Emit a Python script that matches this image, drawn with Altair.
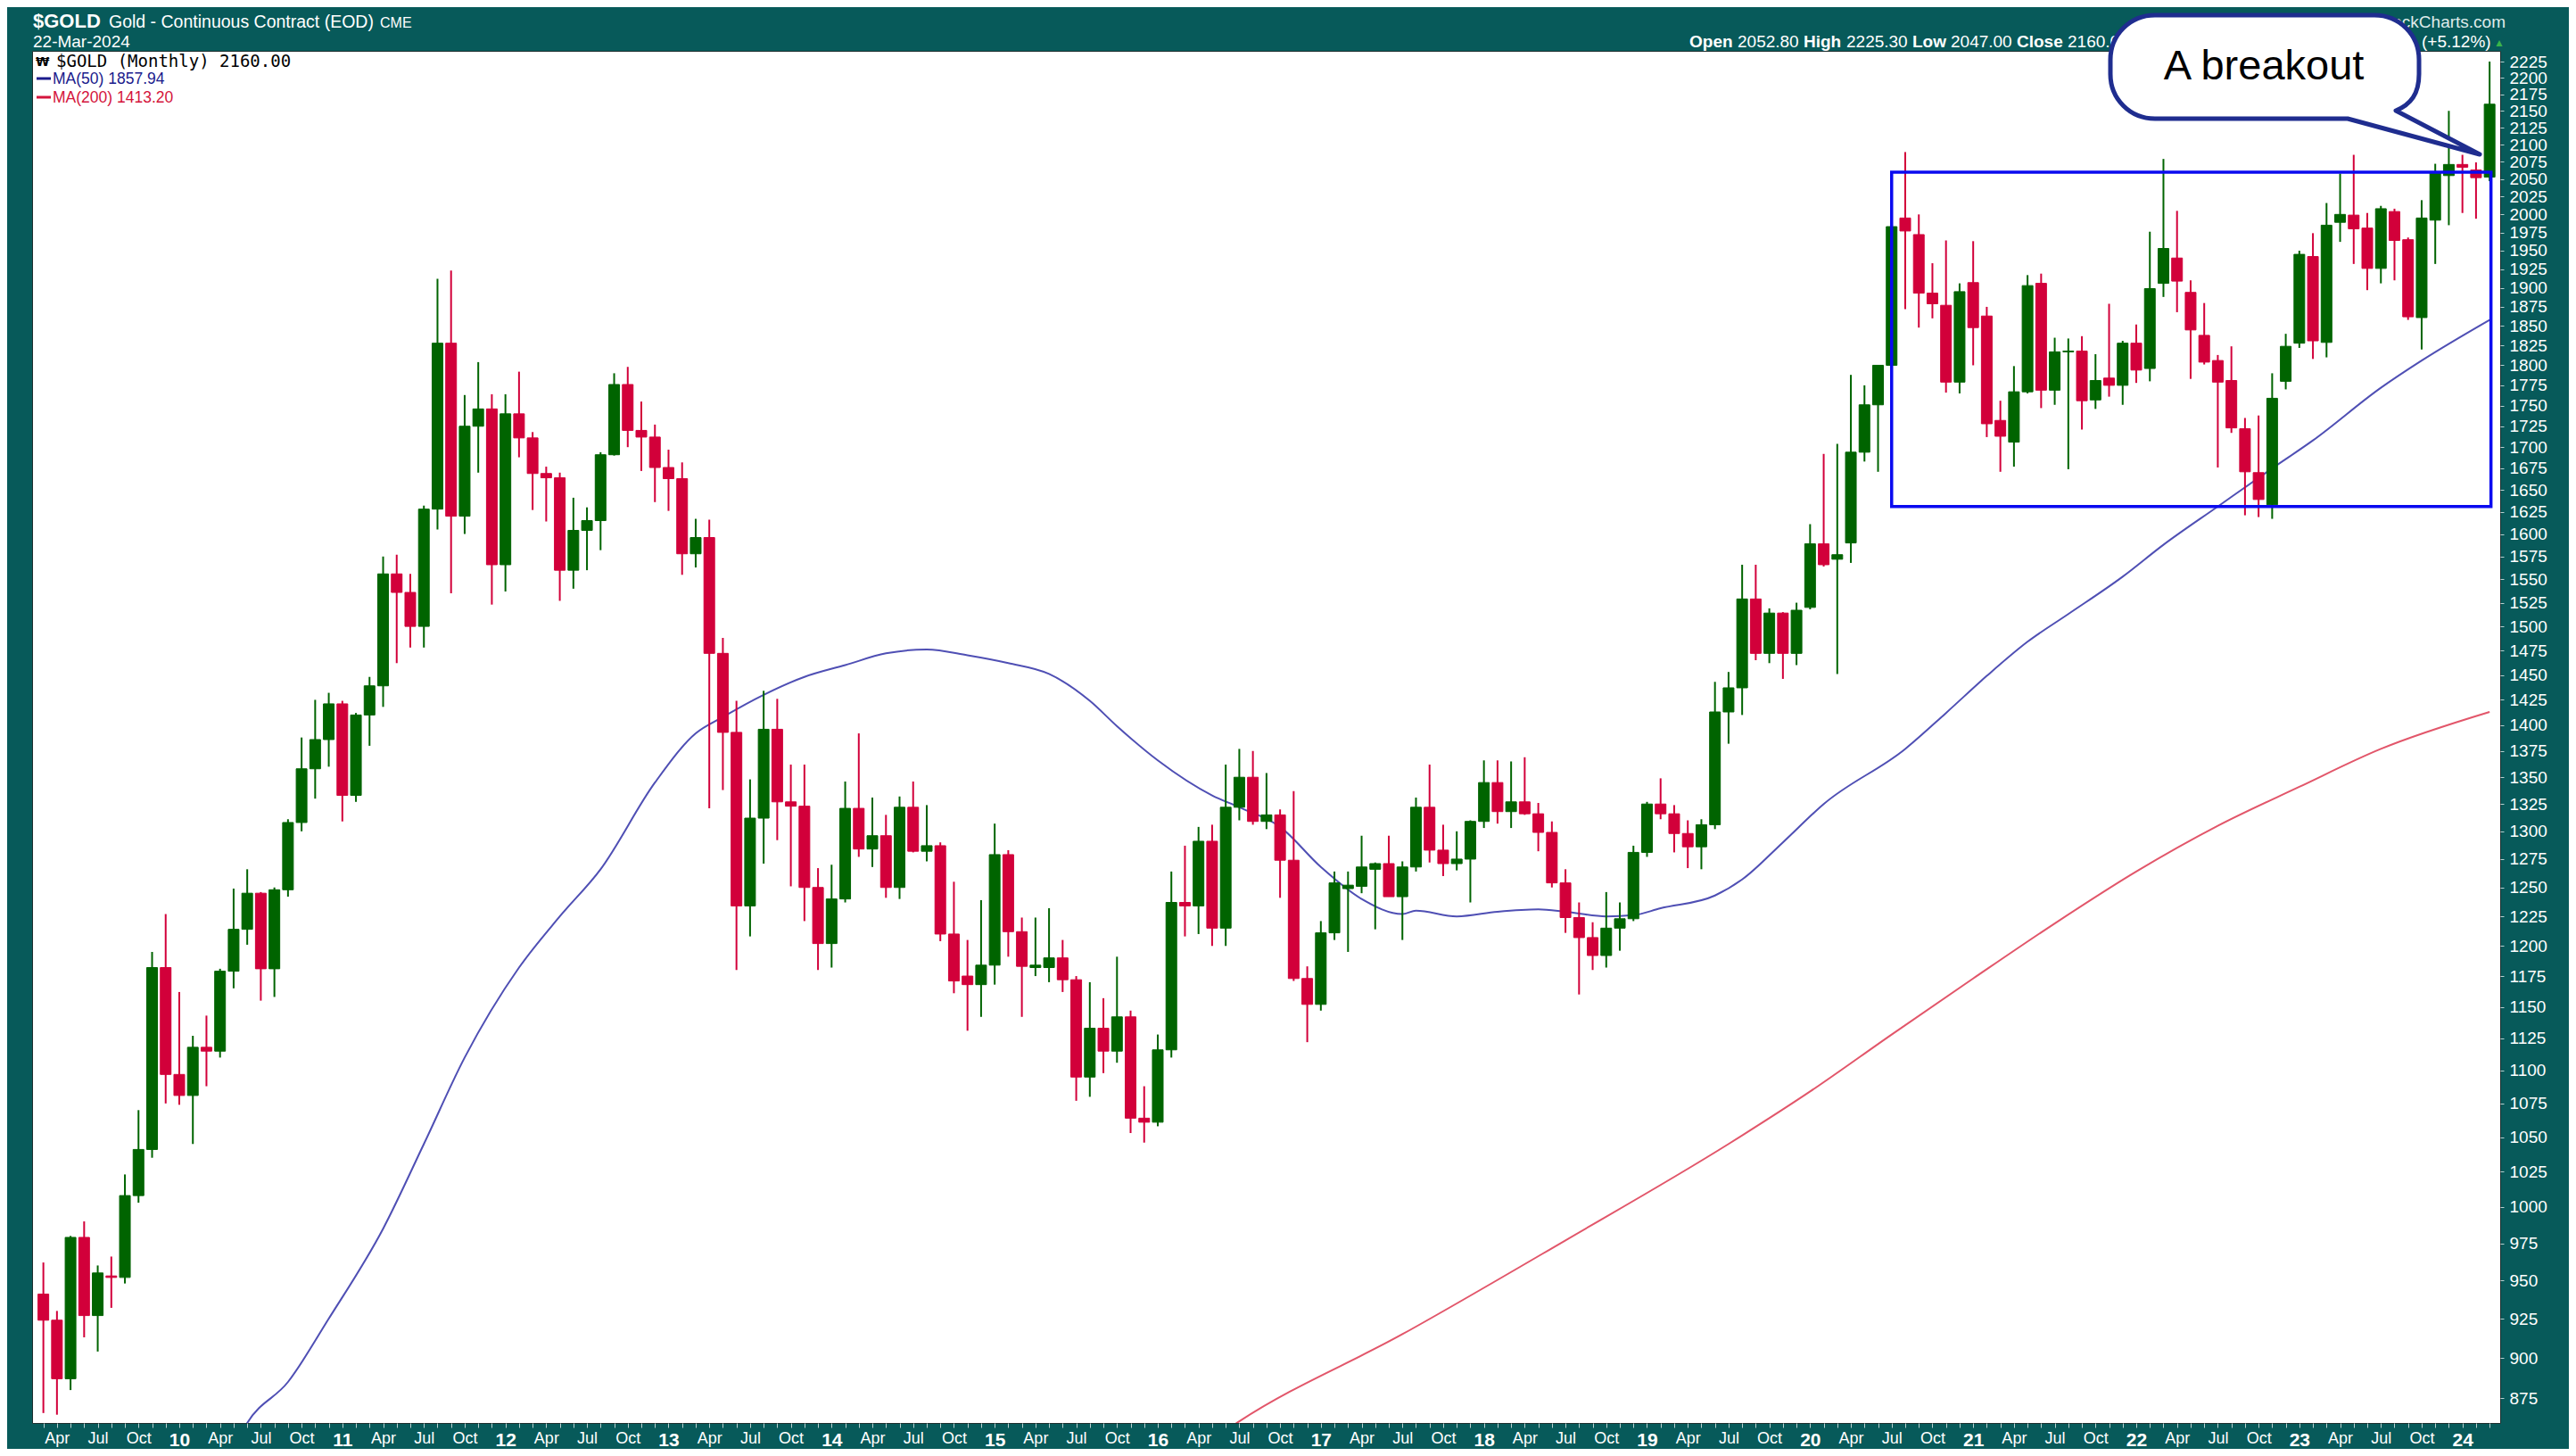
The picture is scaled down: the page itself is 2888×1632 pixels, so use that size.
import altair as alt
import pandas as pd

# ---------------- data (monthly, Mar 2009 .. Mar 2024) ----------------
opens = [
    941, 924, 887, 979, 927, 953, 952, 1008, 1041, 1182,
    1097, 1081, 1118, 1115, 1179, 1214, 1245, 1181, 1248, 1308, 1358, 1386,
    1421, 1333, 1410, 1439, 1556, 1536, 1500, 1628, 1828, 1620, 1725, 1746,
    1566, 1740, 1711, 1669, 1664, 1560, 1604, 1615, 1691, 1776, 1720, 1712,
    1676, 1663, 1578, 1596, 1472, 1393, 1234, 1312, 1396, 1327, 1323, 1250,
    1202, 1240, 1321, 1284, 1296, 1250, 1322, 1282, 1287, 1210, 1175, 1168,
    1184, 1279, 1212, 1182, 1182, 1190, 1172, 1095, 1133, 1115, 1142, 1064,
    1061, 1116, 1237, 1234, 1291, 1215, 1322, 1350, 1309, 1315, 1274, 1173,
    1152, 1211, 1249, 1251, 1266, 1271, 1242, 1268, 1322, 1283, 1271, 1275,
    1309, 1345, 1318, 1327, 1316, 1299, 1254, 1224, 1207, 1192, 1215, 1223,
    1281, 1325, 1316, 1298, 1286, 1306, 1413, 1437, 1529, 1472, 1514, 1472,
    1520, 1589, 1572, 1590, 1694, 1751, 1800, 1995, 1972, 1893, 1877, 1779,
    1907, 1863, 1732, 1706, 1767, 1906, 1769, 1817, 1818, 1757, 1784, 1775,
    1828, 1796, 1906, 1940, 1894, 1838, 1806, 1781, 1722, 1670, 1633, 1780,
    1828, 1942, 1829, 1989, 1999, 1981, 1926, 2004, 1965, 1861, 1992, 2055,
    2071, 2063, 2052.8,
]
highs = [
    962, 930, 980, 990, 960, 966, 1023, 1070, 1195, 1227,
    1162, 1127, 1143, 1181, 1249, 1266, 1246, 1250, 1311, 1388, 1425, 1432,
    1424, 1412, 1448, 1575, 1577, 1556, 1632, 1912, 1923, 1763, 1804, 1764,
    1764, 1792, 1718, 1677, 1670, 1641, 1630, 1694, 1790, 1798, 1755, 1727,
    1697, 1682, 1617, 1616, 1488, 1424, 1348, 1434, 1426, 1362, 1362, 1267,
    1270, 1346, 1392, 1331, 1315, 1332, 1346, 1324, 1290, 1255, 1205, 1239,
    1307, 1283, 1224, 1224, 1232, 1205, 1175, 1170, 1157, 1191, 1147, 1088,
    1128, 1264, 1287, 1304, 1306, 1362, 1377, 1375, 1354, 1320, 1337, 1183,
    1221, 1264, 1264, 1296, 1272, 1296, 1273, 1331, 1362, 1306, 1300, 1310,
    1366, 1366, 1365, 1369, 1326, 1309, 1266, 1237, 1220, 1246, 1237, 1287,
    1327, 1349, 1324, 1310, 1311, 1443, 1453, 1566, 1566, 1519, 1515, 1525,
    1611, 1692, 1704, 1788, 1775, 1797, 1985, 2089, 2000, 1933, 1964, 1906,
    1963, 1875, 1756, 1799, 1917, 1919, 1835, 1834, 1837, 1814, 1879, 1831,
    1852, 1976, 2079, 2005, 1910, 1880, 1813, 1824, 1735, 1738, 1790, 1840,
    1950, 1974, 2016, 2058, 2085, 2002, 2012, 2008, 1968, 2020, 2072, 2150,
    2085, 2074, 2225.3,
]
lows = [
    866, 865, 880, 913, 904, 932, 948, 1003, 1035, 1075,
    1074, 1045, 1088, 1110, 1165, 1201, 1155, 1158, 1242, 1300, 1330, 1360,
    1309, 1327, 1380, 1418, 1462, 1478, 1478, 1605, 1535, 1600, 1670, 1523,
    1537, 1688, 1627, 1614, 1527, 1540, 1560, 1582, 1690, 1700, 1672, 1636,
    1626, 1555, 1563, 1321, 1338, 1180, 1208, 1271, 1292, 1251, 1221, 1180,
    1182, 1237, 1277, 1268, 1241, 1240, 1281, 1273, 1204, 1161, 1131, 1142,
    1168, 1191, 1142, 1175, 1170, 1162, 1077, 1080, 1098, 1106, 1053, 1046,
    1058, 1110, 1208, 1210, 1200, 1200, 1310, 1306, 1302, 1241, 1171, 1122,
    1147, 1205, 1195, 1245, 1214, 1242, 1205, 1264, 1272, 1260, 1265, 1237,
    1303, 1307, 1303, 1315, 1282, 1250, 1211, 1160, 1180, 1182, 1196, 1221,
    1277, 1311, 1281, 1267, 1266, 1302, 1382, 1410, 1465, 1462, 1446, 1460,
    1518, 1564, 1451, 1568, 1683, 1671, 1772, 1872, 1848, 1860, 1766, 1765,
    1800, 1712, 1671, 1677, 1765, 1747, 1751, 1674, 1721, 1746, 1761, 1751,
    1778, 1780, 1888, 1868, 1783, 1801, 1676, 1717, 1621, 1619, 1617, 1770,
    1822, 1808, 1810, 1962, 1932, 1897, 1906, 1910, 1858, 1820, 1932, 1985,
    2002, 1994, 2047,
]
closes = [
    924, 887, 979, 927, 955, 952, 1008, 1041, 1182, 1097,
    1081, 1118, 1115, 1179, 1214, 1245, 1181, 1248, 1308, 1358, 1386, 1421,
    1333, 1410, 1439, 1556, 1536, 1500, 1628, 1828, 1620, 1725, 1746, 1566,
    1740, 1711, 1669, 1664, 1560, 1604, 1615, 1691, 1776, 1720, 1712, 1676,
    1663, 1578, 1596, 1472, 1393, 1234, 1312, 1396, 1327, 1323, 1250, 1202,
    1240, 1321, 1284, 1296, 1250, 1322, 1282, 1287, 1210, 1171, 1168, 1184,
    1279, 1212, 1183, 1184, 1190, 1172, 1095, 1133, 1115, 1142, 1064, 1061,
    1116, 1237, 1234, 1291, 1215, 1322, 1350, 1309, 1315, 1274, 1173, 1152,
    1211, 1254, 1252, 1268, 1271, 1242, 1268, 1322, 1283, 1271, 1275, 1309,
    1345, 1318, 1327, 1316, 1299, 1254, 1224, 1207, 1192, 1215, 1223, 1281,
    1325, 1316, 1298, 1286, 1306, 1413, 1437, 1529, 1472, 1514, 1472, 1517,
    1589, 1566, 1577, 1694, 1751, 1800, 1983, 1977, 1893, 1879, 1779, 1895,
    1848, 1728, 1713, 1767, 1903, 1769, 1817, 1818, 1756, 1781, 1775, 1828,
    1794, 1899, 1953, 1909, 1845, 1804, 1779, 1723, 1671, 1639, 1759, 1824,
    1945, 1831, 1985, 2000, 1980, 1926, 2008, 1964, 1862, 1995, 2059, 2071,
    2067, 2052, 2160,
]

# moving averages (month index, value)
ma50_months = [14, 15, 18, 21, 25, 28, 31, 35, 38, 41, 45, 48, 50, 53, 56, 59, 62, 65, 68, 71,
               74, 77, 79, 82, 86, 88, 91, 94, 97, 100, 101, 104, 107, 110, 112, 115, 117, 119,
               123, 125, 128, 131, 137, 140, 143, 146, 149, 153, 156, 160, 164, 167, 172, 175, 180]
ma50_values = [845, 860, 885, 925, 985, 1045, 1110, 1182, 1225, 1266, 1345, 1392, 1408, 1430,
               1448, 1460, 1472, 1476, 1470, 1462, 1451, 1424, 1399, 1366, 1333, 1322, 1304,
               1268, 1240, 1227, 1230, 1225, 1229, 1231, 1229, 1225, 1226, 1232, 1243, 1257,
               1290, 1325, 1377, 1412, 1449, 1484, 1513, 1553, 1588, 1631, 1675, 1708, 1772,
               1806, 1858]
ma200_months = [86, 88, 100, 112, 124, 130, 136, 142, 148, 154, 160, 166, 172, 180]
ma200_values = [850, 861, 915, 977, 1045, 1084, 1128, 1173, 1219, 1264, 1305, 1341, 1377, 1413]

# consolidation box (month index range, price range)
box_months = [136, 180.1]
box_prices = [1631, 2060]

y_ticks = list(range(875, 2226, 25))
quarter_labels = {3: "Apr", 6: "Jul", 9: "Oct"}   # month-of-year (0 = Jan) -> label
start_month_offset = 2                              # index 0 is March 2009
start_year_2d = 9

# ---------------- styling ----------------
TEAL = "#075a5a"
GREEN = "#006400"
RED = "#d2003a"
NAVY_MA = "#4f4fb4"
RED_MA = "#e2566a"
BOX_BLUE = "#0a0af0"
BUBBLE = "#1f2d8f"
SANS = "Liberation Sans, Arial, sans-serif"
MONO = "DejaVu Sans Mono, monospace"

n = len(closes)
month_index = list(range(n))
candles = pd.DataFrame({"m": month_index, "open": opens, "high": highs,
                        "low": lows, "close": closes})
candles["dir"] = ["up" if c >= o else "down" for o, c in zip(opens, closes)]

x_scale = alt.Scale(domain=[-0.5, 180.45], nice=False, zero=False)
y_scale = alt.Scale(type="log", domain=[860, 2242], nice=False, zero=False)
col_scale = alt.Scale(domain=["up", "down"], range=[GREEN, RED])

mexpr = f"((datum.value + {start_month_offset}) % 12)"
label_expr = (f"{mexpr} == 0 ? '' + ({start_year_2d} + (datum.value + {start_month_offset}) / 12) : "
              + " : ".join(f"{mexpr} == {k} ? '{v}'" for k, v in quarter_labels.items())
              + " : ''")

x_axis = alt.Axis(
    values=month_index, labelExpr=label_expr, labelColor="white", labelFont=SANS,
    labelFontSize={"condition": {"test": f"{mexpr} == 0", "value": 21}, "value": 18},
    labelFontWeight={"condition": {"test": f"{mexpr} == 0", "value": "bold"}, "value": "normal"},
    labelPadding=3, tickSize=5, tickColor="#b9cfcf", domain=False, grid=False,
    labelOverlap=False, labelFlush=False, labelBound=False, title=None,
)
y_axis = alt.Axis(
    orient="right", values=y_ticks, format="d", labelColor="white", labelFont=SANS,
    labelFontSize=19, labelAlign="left", labelPadding=6, tickSize=4, tickColor="#b9cfcf",
    domain=False, grid=False, labelOverlap=False, labelFlush=False, labelBound=False, title=None,
)

X = dict(scale=x_scale, axis=x_axis, title=None)
Y = dict(scale=y_scale, axis=y_axis, title=None)

wicks = alt.Chart(candles).mark_rule(strokeWidth=2).encode(
    x=alt.X("m:Q", **X),
    y=alt.Y("low:Q", **Y),
    y2="high:Q",
    color=alt.Color("dir:N", scale=col_scale, legend=None),
)
bodies = alt.Chart(candles).mark_bar(size=12, strokeWidth=1).encode(
    x=alt.X("m:Q", **X),
    y=alt.Y("open:Q", **Y),
    y2="close:Q",
    color=alt.Color("dir:N", scale=col_scale, legend=None),
    stroke=alt.Stroke("dir:N", scale=col_scale, legend=None),
)

ma50 = alt.Chart(pd.DataFrame({"m": ma50_months, "ma": ma50_values})).mark_line(
    color=NAVY_MA, strokeWidth=2, clip=True, interpolate="monotone").encode(
    x=alt.X("m:Q", **X),
    y=alt.Y("ma:Q", **Y),
)
ma200 = alt.Chart(pd.DataFrame({"m": ma200_months, "ma": ma200_values})).mark_line(
    color=RED_MA, strokeWidth=2, clip=True, interpolate="monotone").encode(
    x=alt.X("m:Q", **X),
    y=alt.Y("ma:Q", **Y),
)

box = alt.Chart(pd.DataFrame({"m0": [box_months[0]], "m1": [box_months[1]],
                              "p0": [box_prices[0]], "p1": [box_prices[1]]})).mark_rect(
    fillOpacity=0, stroke=BOX_BLUE, strokeWidth=3.5).encode(
    x=alt.X("m0:Q", **X), x2="m1:Q",
    y=alt.Y("p0:Q", **Y), y2="p1:Q",
)


def txt(text, x, y, size, color="white", weight="normal", font=SANS, align="left",
        baseline="alphabetic"):
    return alt.Chart(pd.DataFrame({"t": [text]})).mark_text(
        align=align, baseline=baseline, font=font, fontSize=size, fontWeight=weight,
        color=color).encode(x=alt.value(x), y=alt.value(y), text="t:N")


def dash(x0, x1, y, color):
    return alt.Chart(pd.DataFrame({"a": [0]})).mark_rule(color=color, strokeWidth=3).encode(
        x=alt.value(x0), x2=alt.value(x1), y=alt.value(y))


header = [
    txt("$GOLD", 1, -26, 22, weight="bold"),
    txt("Gold - Continuous Contract (EOD)", 86, -26, 19.5),
    txt("CME", 390, -26, 16),
    txt("22-Mar-2024", 1, -4, 19),
    txt("© StockCharts.com", 2773, -26, 19, color="#dfeaea", align="right"),
    txt("Open", 1858, -4, 19, weight="bold"),
    txt("2052.80", 1912, -4, 19),
    txt("High", 1986, -4, 19, weight="bold"),
    txt("2225.30", 2034, -4, 19),
    txt("Low", 2108, -4, 19, weight="bold"),
    txt("2047.00", 2151, -4, 19),
    txt("Close", 2225, -4, 19, weight="bold"),
    txt("2160.00", 2282, -4, 19),
    txt("(+5.12%)", 2679, -4, 19),
    txt("▲", 2760, -5, 12, color="#39b54a"),
]

legend = [
    txt("₩", 4, 17, 14, color="black", weight="bold", font="DejaVu Sans, sans-serif"),
    txt("$GOLD (Monthly) 2160.00", 27, 18, 19, color="black", font=MONO),
    dash(5, 21, 31, "#1a1a8c"),
    txt("MA(50) 1857.94", 23, 37, 17.5, color="#1a1a8c"),
    dash(5, 21, 52, "#d4143c"),
    txt("MA(200) 1413.20", 23, 58, 17.5, color="#d4143c"),
]

# speech bubble (rounded box with a tail), drawn as one path in pixel units
bubble_path = ("M50,0L296,0C324,0,346,22,346,50L346,66C346,88,337,100,320,107"
               "L414,156L266,116L50,116C22,116,0,94,0,66L0,50C0,22,22,0,50,0Z")
bubble = alt.Chart(pd.DataFrame({"a": [0]})).mark_point(
    shape=bubble_path, size=4, filled=True, fill="white", stroke=BUBBLE, strokeWidth=5,
    opacity=1, fillOpacity=1, strokeOpacity=1, strokeJoin="round").encode(
    x=alt.value(2330), y=alt.value(-40))
bubble_text = txt("A breakout", 2502, 18, 47, color="black", align="center",
                  baseline="middle")

chart = alt.layer(
    ma200, ma50, wicks, bodies, box, *legend, *header, bubble, bubble_text
).properties(
    width=2767, height=1538,
    background=TEAL,
    padding={"left": 28, "top": 49, "right": 77, "bottom": 29},
    autosize=alt.AutoSizeParams(type="none"),
).configure_view(fill="white", stroke="#1d2f2f", strokeWidth=1)

chart.save("out.html", embed_options={"renderer": "svg", "actions": False})
